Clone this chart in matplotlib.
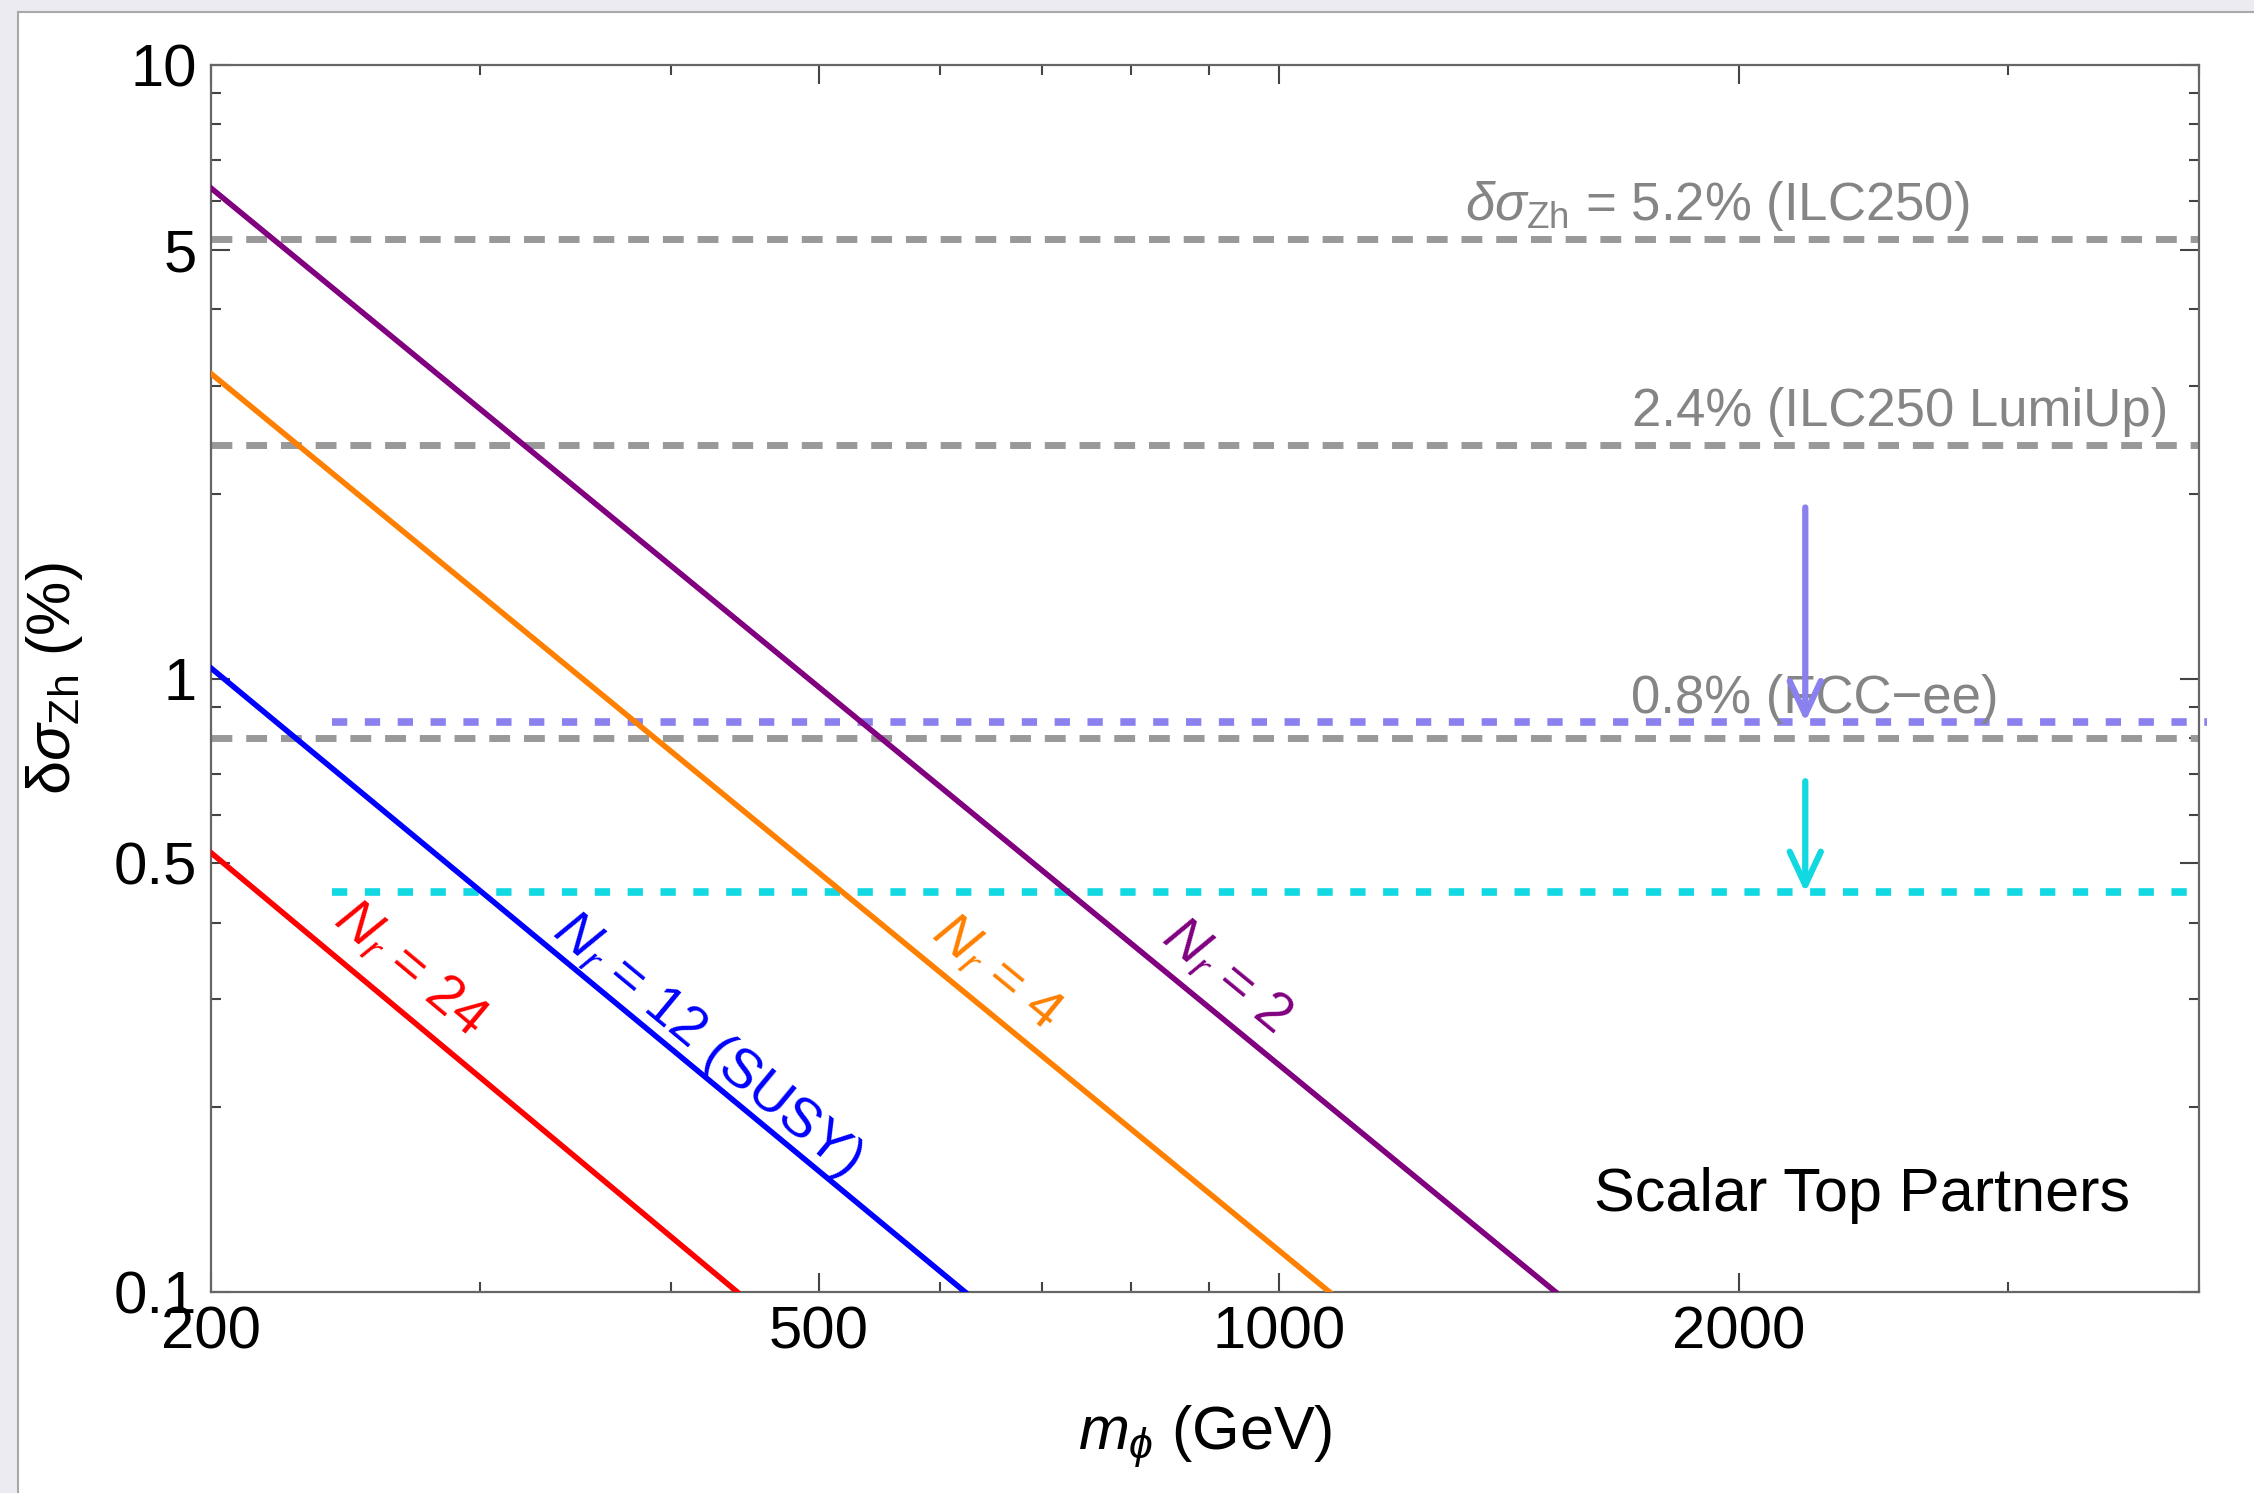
import numpy as np
import matplotlib
matplotlib.use("Agg")
import matplotlib.pyplot as plt
from matplotlib.patches import Rectangle, FancyArrowPatch
from matplotlib.ticker import FixedLocator, NullFormatter

plt.rcParams["font.family"] = ["Liberation Sans", "DejaVu Sans"]
plt.rcParams["mathtext.fontset"] = "custom"
plt.rcParams["mathtext.rm"] = "Liberation Sans"
plt.rcParams["mathtext.it"] = "Liberation Sans:italic"
plt.rcParams["mathtext.bf"] = "Liberation Sans:bold"
plt.rcParams["mathtext.fallback"] = "stixsans"

nr_values = [2, 4, 12, 24]
nr_names = [r"$N_r$ = 2", r"$N_r$ = 4", r"$N_r$ = 12 (SUSY)", r"$N_r$ = 24"]
nr_colors = ["#800080", "#FF8000", "#0000FF", "#FF0000"]
m_start = [200, 200, 200, 200]
m_end = [1517, 1079, 623, 442]
dsig_start = [6.30, 3.14, 1.04, 0.52]
dsig_end = [0.1, 0.1, 0.1, 0.1]
# label centres (m, delta sigma)
lab_m = [923, 653, 422, 270]
lab_y = [0.326, 0.331, 0.253, 0.335]

# collider precisions (grey dashed)
prec_vals = [5.2, 2.4, 0.8]
prec_text = [r"$\delta\sigma_{\mathrm{Zh}}$ = 5.2% (ILC250)",
             "2.4% (ILC250 LumiUp)",
             "0.8% (FCC\u2212ee)"]
prec_text_m = [2829, 3819, 2955]
prec_text_off = [14, 14, 18]

# improved reaches (dotted) with arrows
reach_vals = [0.85, 0.448]
reach_colors = ["#8A80EE", "#12D8E2"]
reach_m = [[240, 4050], [240, 4000]]
arrow_m = 2210
arrow_from = [1.90, 0.68]

W, H = 2254, 1493
fig = plt.figure(figsize=(W / 100, H / 100), dpi=100, facecolor="#EBEBF1")
fig.add_artist(Rectangle((18 / W, -0.1), 1.0, 1.1 - 12 / H,
                         transform=fig.transFigure, fc="white",
                         ec="#A8A8A8", lw=1.5, zorder=-10))

ax = fig.add_axes([211 / W, 1 - 1292 / H, 1988 / W, 1227 / H])
ax.set_xscale("log")
ax.set_yscale("log")
ax.set_xlim(200, 4000)
ax.set_ylim(0.1, 10)

for v in prec_vals:
    ax.axhline(v, color="#999999", lw=5, ls=(0, (3.0, 2.0)), zorder=2)

for v, c, mm in zip(reach_vals, reach_colors, reach_m):
    ax.plot(mm, [v, v], color=c, lw=5.5, ls=(0, (2.0, 2.3)), clip_on=False,
            zorder=3)

for y0, y1, c in zip(arrow_from, reach_vals, reach_colors):
    ax.add_patch(FancyArrowPatch((arrow_m, y0), (arrow_m, y1),
                                 arrowstyle="->,head_length=0.6,head_width=0.28",
                                 mutation_scale=40, color=c, lw=4.5,
                                 shrinkA=0, shrinkB=0, zorder=4))

for x0, x1, y0, y1, c in zip(m_start, m_end, dsig_start, dsig_end, nr_colors):
    ax.plot([x0, x1], [y0, y1], color=c, lw=4.0, zorder=5)

for name, c, x0, x1, y0, y1, lm, ly in zip(nr_names, nr_colors, m_start, m_end,
                                           dsig_start, dsig_end, lab_m, lab_y):
    p0 = ax.transData.transform((x0, y0))
    p1 = ax.transData.transform((x1, y1))
    ang = np.degrees(np.arctan2(p1[1] - p0[1], p1[0] - p0[0]))
    ax.text(lm, ly, name, color=c, fontsize=40, rotation=ang,
            rotation_mode="anchor", ha="center", va="center", zorder=6)

for v, t, tm, off in zip(prec_vals, prec_text, prec_text_m, prec_text_off):
    ax.annotate(t, xy=(tm, v), xytext=(0, off), textcoords="offset points",
                ha="right", va="baseline", color="#858585", fontsize=38)

ax.text(0.8305, 0.079, "Scalar Top Partners", transform=ax.transAxes,
        ha="center", va="center", fontsize=44, color="black")

ax.xaxis.set_major_locator(FixedLocator([200, 500, 1000, 2000]))
ax.xaxis.set_minor_locator(FixedLocator([300, 400, 600, 700, 800, 900, 3000, 4000]))
ax.yaxis.set_major_locator(FixedLocator([0.1, 0.5, 1, 5, 10]))
ax.yaxis.set_minor_locator(FixedLocator([0.2, 0.3, 0.4, 0.6, 0.7, 0.8, 0.9,
                                         2, 3, 4, 6, 7, 8, 9]))
ax.set_xticklabels(["200", "500", "1000", "2000"])
ax.set_yticklabels(["0.1", "0.5", "1", "5", "10"])
ax.xaxis.set_minor_formatter(NullFormatter())
ax.yaxis.set_minor_formatter(NullFormatter())

ax.tick_params(which="both", direction="in", top=True, right=True,
               color="#444444", labelsize=43)
ax.tick_params(which="major", length=14, width=1.5)
ax.tick_params(which="minor", length=7.5, width=1.5)
ax.tick_params(axis="y", pad=10)
ax.tick_params(axis="x", pad=10)
for s in ax.spines.values():
    s.set_color("#666666")
    s.set_linewidth(1.6)

ax.set_xlabel(r"$m_{\phi}$ (GeV)", fontsize=44, va="center")
ax.xaxis.set_label_coords(0.5, -0.118)
ax.set_ylabel(r"$\mathrm{\delta}\sigma_{\mathrm{Zh}}$ (%)", fontsize=44,
              va="center")
ax.yaxis.set_label_coords(-0.0785, 0.5)

fig.savefig("out.png", dpi=100, facecolor=fig.get_facecolor())
